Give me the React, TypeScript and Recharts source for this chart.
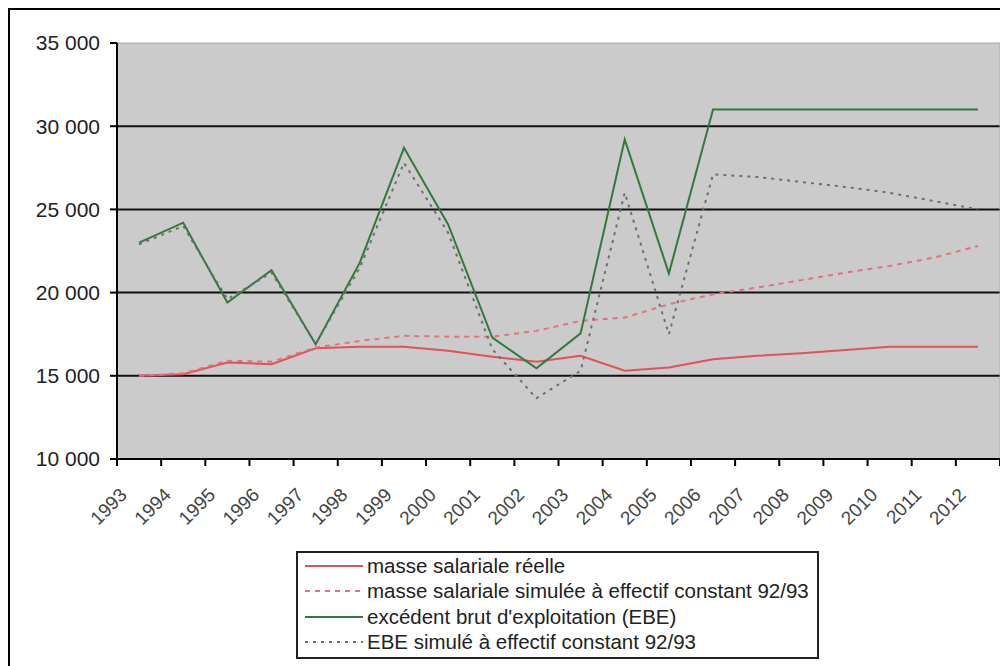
import React from 'react'
import {
  LineChart,
  Line,
  XAxis,
  YAxis,
  CartesianGrid,
  ReferenceLine,
} from 'recharts'

// Years on the category axis
const years = [
  1993, 1994, 1995, 1996, 1997, 1998, 1999, 2000, 2001, 2002,
  2003, 2004, 2005, 2006, 2007, 2008, 2009, 2010, 2011, 2012,
]

// masse salariale réelle
const masseReelle = [
  15000, 15100, 15800, 15700, 16650, 16750, 16750, 16500, 16150, 15850,
  16200, 15300, 15500, 16000, 16200, 16350, 16550, 16750, 16750, 16750,
]

// masse salariale simulée à effectif constant 92/93
const masseSimulee = [
  15000, 15150, 15900, 15850, 16700, 17100, 17400, 17350, 17350, 17700,
  18300, 18500, 19300, 19900, 20300, 20750, 21200, 21600, 22100, 22800,
]

// excédent brut d'exploitation (EBE)
const ebe = [
  23000, 24200, 19400, 21350, 16900, 21800, 28700, 24100, 17300, 15450,
  17550, 29200, 21150, 31000, 31000, 31000, 31000, 31000, 31000, 31000,
]

// EBE simulé à effectif constant 92/93
const ebeSimule = [
  22900, 24000, 19600, 21200, 16900, 21500, 27800, 23600, 16600, 13650,
  15300, 26000, 17500, 27100, 26950, 26650, 26350, 26000, 25500, 25000,
]

const yTicks = [10000, 15000, 20000, 25000, 30000, 35000]
const gridValues = [15000, 20000, 25000, 30000]

const legendItems = [
  { label: 'masse salariale réelle', color: '#e0525a', dash: '' },
  { label: 'masse salariale simulée à effectif constant 92/93', color: '#e8707c', dash: '5 5' },
  { label: "excédent brut d'exploitation (EBE)", color: '#2f7a3c', dash: '' },
  { label: 'EBE simulé à effectif constant 92/93', color: '#6e6e6e', dash: '3 5' },
]

const data = years.map((year, i) => ({
  year,
  masseReelle: masseReelle[i],
  masseSimulee: masseSimulee[i],
  ebe: ebe[i],
  ebeSimule: ebeSimule[i],
}))

// tick marks sit between years, labels at the year itself
const xTicks = years.flatMap((y) => [y - 0.5, y]).concat(years[years.length - 1] + 0.5)

const FONT = '"Liberation Sans", Arial, sans-serif'

const formatThousands = (v: number) =>
  String(v).replace(/\B(?=(\d{3})+(?!\d))/g, ' ')

const YearTick = (props: any) => {
  const { x, y, payload } = props
  const v = payload.value
  if (!Number.isInteger(v)) {
    return <line x1={x} x2={x} y1={y} y2={y + 7} stroke="#000" strokeWidth={2} />
  }
  const ax = x - 11
  const ay = y + 37
  return (
    <text
      x={ax}
      y={ay}
      textAnchor="end"
      transform={`rotate(-45 ${ax} ${ay})`}
      fontSize={19}
      fontFamily={FONT}
      fill="#444"
    >
      {v}
    </text>
  )
}

const App: React.FC = () => {
  return (
    <div
      style={{
        position: 'relative',
        width: 1000,
        height: 658,
        boxSizing: 'border-box',
        borderTop: '2px solid #000',
        borderLeft: '2px solid #000',
        overflow: 'hidden',
        background: '#fff',
      }}
    >
      <LineChart
        width={990}
        height={648}
        data={data}
        margin={{ top: 33, right: 0, bottom: 0, left: 0 }}
      >
        <CartesianGrid
          vertical={false}
          horizontal={false}
          fill="#cbcbcb"
          fillOpacity={1}
        />
        {gridValues.map((v) => (
          <ReferenceLine key={v} y={v} stroke="#111" strokeWidth={2} />
        ))}
        <ReferenceLine y={35000} stroke="#a8a8a8" strokeWidth={1} />
        <ReferenceLine x={2012.5} stroke="#a8a8a8" strokeWidth={1} />
        <XAxis
          dataKey="year"
          type="number"
          domain={[1992.5, 2012.5]}
          ticks={xTicks}
          interval={0}
          allowDecimals
          height={199}
          tickLine={false}
          tickSize={0}
          tickMargin={0}
          axisLine={{ stroke: '#000', strokeWidth: 2 }}
          tick={<YearTick />}
        />
        <YAxis
          domain={[10000, 35000]}
          ticks={yTicks}
          interval={0}
          width={107}
          tickSize={7}
          tickMargin={10}
          tickFormatter={formatThousands}
          axisLine={{ stroke: '#000', strokeWidth: 2 }}
          tickLine={{ stroke: '#000', strokeWidth: 2 }}
          tick={{ fontSize: 21, fontFamily: FONT, fill: '#222' }}
        />
        <Line
          dataKey="masseReelle"
          stroke="#e0525a"
          strokeWidth={2}
          dot={false}
          isAnimationActive={false}
        />
        <Line
          dataKey="masseSimulee"
          stroke="#e8707c"
          strokeWidth={2}
          strokeDasharray="5 5"
          dot={false}
          isAnimationActive={false}
        />
        <Line
          dataKey="ebe"
          stroke="#2f7a3c"
          strokeWidth={2}
          dot={false}
          isAnimationActive={false}
        />
        <Line
          dataKey="ebeSimule"
          stroke="#6e6e6e"
          strokeWidth={2}
          strokeDasharray="3 5"
          dot={false}
          isAnimationActive={false}
        />
      </LineChart>

      {/* legend box under the axis */}
      <div
        style={{
          position: 'absolute',
          left: 286,
          top: 541,
          width: 523,
          height: 108,
          boxSizing: 'border-box',
          border: '2px solid #222',
          background: '#fff',
          fontFamily: FONT,
          fontSize: 20.5,
          color: '#222',
        }}
      >
        {legendItems.map((item) => (
          <div
            key={item.label}
            style={{
              height: 25.5,
              display: 'flex',
              alignItems: 'center',
              paddingLeft: 7,
              whiteSpace: 'nowrap',
            }}
          >
            <svg width={58} height={6} style={{ marginRight: 4, flex: 'none' }}>
              <line
                x1={0}
                x2={58}
                y1={3}
                y2={3}
                stroke={item.color}
                strokeWidth={2}
                strokeDasharray={item.dash || undefined}
              />
            </svg>
            <span>{item.label}</span>
          </div>
        ))}
      </div>
    </div>
  )
}

export default App
